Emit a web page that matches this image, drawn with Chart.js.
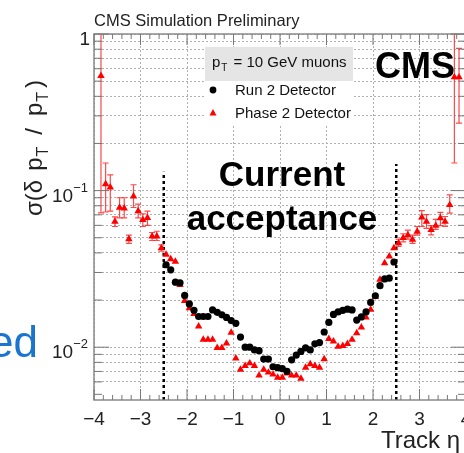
<!DOCTYPE html>
<html>
<head>
<meta charset="utf-8">
<script src="https://cdn.jsdelivr.net/npm/chart.js@4.4.0/dist/chart.umd.min.js"></script>
<style>
  html, body { margin: 0; padding: 0; background: #fff; overflow: hidden; }
  #wrap { position: relative; width: 464px; height: 453px; overflow: hidden; }
  #myChart { position: absolute; left: 0; top: 0; }
</style>
</head>
<body>
<div id="wrap"><canvas id="myChart" width="480" height="453"></canvas></div>
<script>
// Run 2 detector (black dots)
const etaRun2 = [-2.45, -2.35, -2.25, -2.15, -2.05, -1.95, -1.85, -1.75, -1.65, -1.55,
  -1.45, -1.35, -1.25, -1.15, -1.05, -0.95, -0.85, -0.75, -0.65, -0.55,
  -0.45, -0.35, -0.25, -0.15, -0.05, 0.05, 0.15, 0.25, 0.35, 0.45,
  0.55, 0.65, 0.75, 0.85, 0.95, 1.05, 1.15, 1.25, 1.35, 1.45,
  1.55, 1.65, 1.75, 1.85, 1.95, 2.05, 2.15, 2.25, 2.35, 2.45];
const sigmaRun2 = [0.0336, 0.0312, 0.0260, 0.0258, 0.0214, 0.0189, 0.0172, 0.0157, 0.0157, 0.0157,
  0.0173, 0.0167, 0.0161, 0.0155, 0.0148, 0.0142, 0.0116, 0.0100, 0.0100, 0.0096,
  0.0095, 0.0084, 0.0084, 0.0075, 0.0074, 0.0073, 0.0070, 0.0083, 0.0089, 0.0094,
  0.0099, 0.0096, 0.0105, 0.0107, 0.0125, 0.0144, 0.0162, 0.0168, 0.0172, 0.0175,
  0.0173, 0.0149, 0.0156, 0.0168, 0.0193, 0.0213, 0.0247, 0.0273, 0.0276, 0.0350];

// Phase 2 detector (red triangles)
const etaPhase2 = [-3.85, -3.75, -3.65, -3.55, -3.45, -3.35, -3.25, -3.15, -3.05, -2.95,
  -2.85, -2.75, -2.65, -2.55, -2.45, -2.35, -2.25, -2.15, -2.05, -1.95,
  -1.85, -1.75, -1.65, -1.55, -1.45, -1.35, -1.25, -1.15, -1.05, -0.95,
  -0.85, -0.75, -0.65, -0.55, -0.45, -0.35, -0.25, -0.15, -0.05, 0.05,
  0.15, 0.25, 0.35, 0.45, 0.55, 0.65, 0.75, 0.85, 0.95, 1.05,
  1.15, 1.25, 1.35, 1.45, 1.55, 1.65, 1.75, 1.85, 1.95, 2.05,
  2.15, 2.25, 2.35, 2.45, 2.55, 2.65, 2.75, 2.85, 2.95, 3.05,
  3.15, 3.25, 3.35, 3.45, 3.55, 3.65, 3.75, 3.85];
const sigmaPhase2 = [0.54, 0.110, 0.105, 0.0635, 0.078, 0.077, 0.049, 0.092, 0.074, 0.065,
  0.067, 0.051, 0.051, 0.043, 0.039, 0.0365, 0.0352, 0.0250, 0.0198, 0.0178,
  0.0163, 0.0136, 0.0112, 0.0112, 0.0112, 0.0099, 0.0099, 0.0106, 0.0124, 0.0085,
  0.0072, 0.0076, 0.0079, 0.0076, 0.0066, 0.0072, 0.0069, 0.0067, 0.0064, 0.0064,
  0.0068, 0.0066, 0.0066, 0.0063, 0.0074, 0.0078, 0.0076, 0.0074, 0.0084, 0.0113,
  0.0109, 0.0101, 0.0102, 0.0105, 0.0112, 0.0123, 0.0134, 0.0155, 0.0174, 0.0210,
  0.0270, 0.0344, 0.0380, 0.0430, 0.0462, 0.0500, 0.0520, 0.0487, 0.0548, 0.0675,
  0.0633, 0.0562, 0.0597, 0.0667, 0.0633, 0.081, 0.53, 0.53];
const errLoPhase2 = [0.072, 0.073, 0.074, 0.059, 0.067, 0.067, 0.046, 0.078, 0.067, 0.059,
  0.060, 0.048, 0.048, 0.041, null, null, null, null, null, null,
  null, null, null, null, null, null, null, null, null, null,
  null, null, null, null, null, null, null, null, null, null,
  null, null, null, null, null, null, null, null, null, null,
  null, null, null, null, null, null, null, null, null, null,
  null, null, null, null, 0.044, 0.047, 0.049, 0.046, 0.052, 0.059,
  0.0574, 0.0521, 0.0565, 0.0598, 0.0590, 0.0718, 0.15, 0.27];
const errHiPhase2 = [1.2, 0.150, 0.126, 0.068, 0.090, 0.090, 0.052, 0.109, 0.082, 0.071,
  0.074, 0.054, 0.055, 0.045, null, null, null, null, null, null,
  null, null, null, null, null, null, null, null, null, null,
  null, null, null, null, null, null, null, null, null, null,
  null, null, null, null, null, null, null, null, null, null,
  null, null, null, null, null, null, null, null, null, null,
  null, null, null, null, 0.049, 0.053, 0.056, 0.052, 0.059, 0.0745,
  0.0702, 0.0598, 0.0654, 0.0727, 0.0683, 0.094, 1.2, 0.81];

// dotted lines marking the current acceptance
const acceptanceEta = [-2.5, 2.5];
const acceptanceTop = [0.132, 0.148];

const xTickValues = [-4, -3, -2, -1, 0, 1, 2, 3, 4];
const xTickLabels = ['\u22124', '\u22123', '\u22122', '\u22121', '0', '1', '2', '3', '4'];
const yTickValues = [0.01, 0.1, 1];
const yTickBase = ['10', '10', '1'];
const yTickExp = ['\u22122', '\u22121', ''];

const Y_MIN = 0.0046, Y_MAX = 1;
const FONT = '"Liberation Sans", Arial, Helvetica, sans-serif';
function font(size, bold) { return (bold ? 'bold ' : '') + size + 'px ' + FONT; }

function points(xs, ys) {
  return xs.map((v, i) => ({x: v, y: ys[i]}));
}

let chart = document.getElementById('myChart');

const rootStyle = {
  id: 'rootStyle',
  beforeDraw(c) {
    const ctx = c.ctx;
    ctx.save();
    ctx.fillStyle = '#fff';
    ctx.fillRect(0, 0, c.width, c.height);
    ctx.restore();
  },
  beforeDatasetsDraw(c) {
    // error bars of the phase 2 points
    const {ctx, chartArea: a, scales: {x, y}} = c;
    ctx.save();
    ctx.beginPath();
    ctx.rect(a.left, a.top, a.right - a.left, a.bottom - a.top);
    ctx.clip();
    ctx.strokeStyle = 'rgba(255,40,40,0.85)';
    ctx.lineWidth = 1.2;
    etaPhase2.forEach((eta, i) => {
      if (errLoPhase2[i] == null) return;
      const px = x.getPixelForValue(eta);
      const y1 = y.getPixelForValue(errLoPhase2[i]);
      const y2 = y.getPixelForValue(errHiPhase2[i]);
      ctx.beginPath();
      ctx.moveTo(px, y1); ctx.lineTo(px, y2);
      ctx.moveTo(px - 3, y1); ctx.lineTo(px + 3, y1);
      ctx.moveTo(px - 3, y2); ctx.lineTo(px + 3, y2);
      ctx.stroke();
    });
    ctx.restore();
  },
  afterDraw(c) {
    const {ctx, chartArea: a, scales: {x, y}} = c;
    ctx.save();

    // frame
    ctx.strokeStyle = '#8a8a8a';
    ctx.lineWidth = 1.5;
    ctx.strokeRect(a.left, a.top, a.right - a.left, a.bottom - a.top);

    // tick marks inside the frame
    ctx.lineWidth = 1;
    ctx.strokeStyle = '#777';
    ctx.beginPath();
    for (let k = -20; k <= 20; k++) {
      const px = x.getPixelForValue(k / 5);
      const len = (k % 5 == 0) ? 11 : 5;
      ctx.moveTo(px, a.bottom); ctx.lineTo(px, a.bottom - len);
      ctx.moveTo(px, a.top); ctx.lineTo(px, a.top + len);
    }
    for (let e = -3; e <= 0; e++) {
      for (let m = 1; m <= 9; m++) {
        const v = m * Math.pow(10, e);
        if (v < Y_MIN || v > Y_MAX) continue;
        const py = y.getPixelForValue(v);
        const len = (m == 1) ? 15 : 8;
        ctx.moveTo(a.left, py); ctx.lineTo(a.left + len, py);
        ctx.moveTo(a.right, py); ctx.lineTo(a.right - len, py);
      }
    }
    ctx.stroke();

    // y tick labels with superscripts
    ctx.fillStyle = '#222';
    ctx.textBaseline = 'alphabetic';
    yTickValues.forEach((v, i) => {
      const py = y.getPixelForValue(v);
      ctx.font = font(13);
      const we = yTickExp[i] ? ctx.measureText(yTickExp[i]).width : 0;
      ctx.font = font(19);
      const wb = ctx.measureText(yTickBase[i]).width;
      const right = yTickExp[i] ? 88 : 90;
      ctx.textAlign = 'left';
      ctx.fillText(yTickBase[i], right - we - wb, py + 11);
      if (yTickExp[i]) {
        ctx.font = font(13);
        ctx.fillText(yTickExp[i], right - we, py + 1);
      }
    });

    // y axis title
    ctx.save();
    ctx.translate(42, 216);
    ctx.rotate(-Math.PI / 2);
    ctx.fillStyle = '#222';
    ctx.textAlign = 'left';
    let cx = 0;
    const pieces = [
      ['\u03c3(\u03b4', 24, 0, 9], ['p', 24, 0, 1], ['T', 16, 6, 12], ['/', 24, 0, 12],
      ['p', 24, 0, 1], ['T', 16, 6, 4], [')', 24, 0, 0]
    ];
    pieces.forEach(p => {
      ctx.font = font(p[1]);
      ctx.fillText(p[0], cx, p[2]);
      cx += ctx.measureText(p[0]).width + p[3];
    });
    ctx.restore();

    // x axis title
    ctx.font = font(24);
    ctx.fillStyle = '#222';
    ctx.textAlign = 'left';
    ctx.fillText('Track \u03b7', 381, 448);

    // header
    ctx.font = font(16.5);
    ctx.fillText('CMS Simulation Preliminary', 94, 26);

    // legend
    ctx.fillStyle = '#fff';
    ctx.fillRect(205, 47, 148, 78);
    ctx.fillStyle = '#e5e5e5';
    ctx.fillRect(205, 47, 148, 34);
    ctx.fillStyle = '#111';
    ctx.font = font(15);
    ctx.fillText('p', 212, 67);
    let w = ctx.measureText('p').width;
    ctx.font = font(10);
    ctx.fillText('T', 212 + w + 1, 71);
    ctx.font = font(15);
    ctx.fillText(' = 10 GeV muons', 212 + w + 9, 67);
    ctx.fillText('Run 2 Detector', 235, 95);
    ctx.fillText('Phase 2 Detector', 235, 118);
    ctx.fillStyle = '#000';
    ctx.beginPath(); ctx.arc(213, 90, 3.4, 0, Math.PI * 2); ctx.fill();
    ctx.fillStyle = '#ff0000';
    ctx.beginPath();
    ctx.moveTo(213, 109); ctx.lineTo(216.5, 115.5); ctx.lineTo(209.5, 115.5);
    ctx.closePath(); ctx.fill();

    // big labels
    ctx.fillStyle = '#000';
    ctx.font = font(36, true);
    ctx.fillText('CMS', 375, 78);
    ctx.font = font(35, true);
    ctx.textAlign = 'center';
    ctx.fillText('Current', 282, 186);
    ctx.fillText('acceptance', 282, 230);

    // slide text cut by the crop
    ctx.fillStyle = '#1a75cf';
    ctx.font = font(44);
    ctx.textAlign = 'right';
    ctx.fillText('ed', 38, 357);

    ctx.restore();
  }
};

const config = {
  type: 'scatter',
  data: {
    datasets: [{
      label: 'Run 2 Detector',
      data: points(etaRun2, sigmaRun2),
      pointStyle: 'circle',
      pointRadius: 3.6,
      backgroundColor: '#000',
      borderColor: '#000',
      borderWidth: 0
    }, {
      label: 'Phase 2 Detector',
      data: points(etaPhase2, sigmaPhase2),
      pointStyle: 'triangle',
      pointRadius: 4.3,
      backgroundColor: '#ff0000',
      borderColor: '#ff0000',
      borderWidth: 0
    }, {
      type: 'line',
      label: 'edge1',
      data: [{x: acceptanceEta[0], y: Y_MIN}, {x: acceptanceEta[0], y: acceptanceTop[0]}],
      borderColor: '#000',
      borderWidth: 2.5,
      borderDash: [3, 3],
      pointRadius: 0,
      fill: false
    }, {
      type: 'line',
      label: 'edge2',
      data: [{x: acceptanceEta[1], y: Y_MIN}, {x: acceptanceEta[1], y: acceptanceTop[1]}],
      borderColor: '#000',
      borderWidth: 2.5,
      borderDash: [3, 3],
      pointRadius: 0,
      fill: false
    }]
  },
  options: {
    responsive: false,
    animation: false,
    devicePixelRatio: 1,
    layout: { padding: { left: 0, right: 14, top: 34, bottom: 0 } },
    plugins: {
      legend: { display: false },
      tooltip: { enabled: false },
      title: { display: false }
    },
    scales: {
      x: {
        type: 'linear',
        min: -4,
        max: 4,
        afterBuildTicks: (s) => { s.ticks = xTickValues.map(v => ({value: v})); },
        afterFit: (s) => { s.height = 53; },
        ticks: {
          autoSkip: false,
          maxRotation: 0,
          padding: 8,
          color: '#222',
          font: { family: FONT, size: 19 },
          callback: (v, i) => xTickLabels[i]
        },
        grid: { color: '#b0b0b0', lineWidth: 1, drawTicks: false },
        border: { display: false, dash: [2, 2] }
      },
      y: {
        type: 'logarithmic',
        min: Y_MIN,
        max: Y_MAX,
        afterBuildTicks: (s) => {
          s.ticks = s.ticks.filter(t => {
            const m = t.value / Math.pow(10, Math.floor(Math.log10(t.value) + 1e-9));
            return Math.abs(m - Math.round(m)) < 1e-6;
          });
        },
        afterFit: (s) => { s.width = 94; },
        ticks: { display: false },
        grid: { color: '#b0b0b0', lineWidth: 1, drawTicks: false },
        border: { display: false, dash: [2, 2] }
      }
    }
  },
  plugins: [rootStyle]
};

var myChart = new Chart(chart, config);
</script>
</body>
</html>
